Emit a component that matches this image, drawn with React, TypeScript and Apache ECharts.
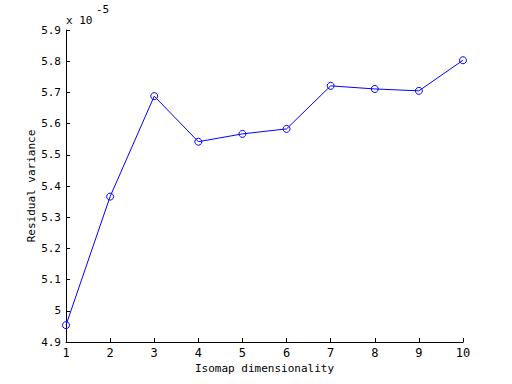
import React, { useEffect, useRef } from "react";
import * as echarts from "echarts";

const dims = [1, 2, 3, 4, 5, 6, 7, 8, 9, 10];
const residual = [4.954, 5.366, 5.688, 5.542, 5.567, 5.583, 5.721, 5.711, 5.705, 5.803];
const xTicks = [1, 2, 3, 4, 5, 6, 7, 8, 9, 10];
const yTicks = ["4.9", "5", "5.1", "5.2", "5.3", "5.4", "5.5", "5.6", "5.7", "5.8", "5.9"];

const FONT = "DejaVu Sans Mono";

export default function App() {
  const ref = useRef<HTMLDivElement>(null);
  useEffect(() => {
    const chart = echarts.init(ref.current!, null, { renderer: "svg" });
    chart.setOption({
      animation: false,
      backgroundColor: "#ffffff",
      grid: { left: 66, right: 49, top: 30, bottom: 42 },
      xAxis: {
        type: "value",
        min: 1,
        max: 10,
        interval: 1,
        name: "Isomap dimensionality",
        nameLocation: "middle",
        nameGap: 21,
        nameMoveOverlap: false,
        nameTextStyle: { fontFamily: FONT, fontSize: 11, color: "#000" },
        axisLine: { onZero: false, lineStyle: { color: "#000", width: 1 } },
        axisTick: { inside: true, length: 4, lineStyle: { color: "#000" } },
        axisLabel: {
          fontFamily: FONT,
          fontSize: 12,
          color: "#000",
          margin: 5,
          formatter: (v: number) => (xTicks.includes(v) ? String(v) : ""),
        },
        splitLine: { show: false },
      },
      yAxis: {
        type: "value",
        min: 4.9,
        max: 5.9,
        interval: 0.1,
        name: "Residual variance",
        nameLocation: "middle",
        nameGap: 29,
        nameMoveOverlap: false,
        nameTextStyle: { fontFamily: FONT, fontSize: 11, color: "#000" },
        axisLine: { show: true, onZero: false, lineStyle: { color: "#000", width: 1 } },
        axisTick: { show: true, inside: true, length: 4, lineStyle: { color: "#000" } },
        axisLabel: {
          fontFamily: FONT,
          fontSize: 11,
          color: "#000",
          margin: 5,
          formatter: (v: number) => {
            const idx = Math.round((v - 4.9) * 10);
            return yTicks[idx] ?? "";
          },
        },
        splitLine: { show: false },
      },
      graphic: [
        {
          type: "text",
          left: 66,
          top: 15,
          style: { text: "x 10", fontFamily: FONT, fontSize: 11, fill: "#000" },
        },
        {
          type: "text",
          left: 96,
          top: 4,
          style: { text: "-5", fontFamily: FONT, fontSize: 11, fill: "#000" },
        },
      ],
      series: [
        {
          type: "line",
          data: dims.map((d, i) => [d, residual[i]]),
          symbol: "circle",
          symbolSize: 7,
          lineStyle: { color: "#0000ff", width: 1 },
          itemStyle: { color: "rgba(0,0,0,0)", borderColor: "#0000ff", borderWidth: 1 },
        },
      ],
    });
    return () => chart.dispose();
  }, []);
  return (
    <div
      ref={ref}
      style={{ position: "fixed", left: 0, top: 0, width: 512, height: 384, background: "#fff" }}
    />
  );
}
